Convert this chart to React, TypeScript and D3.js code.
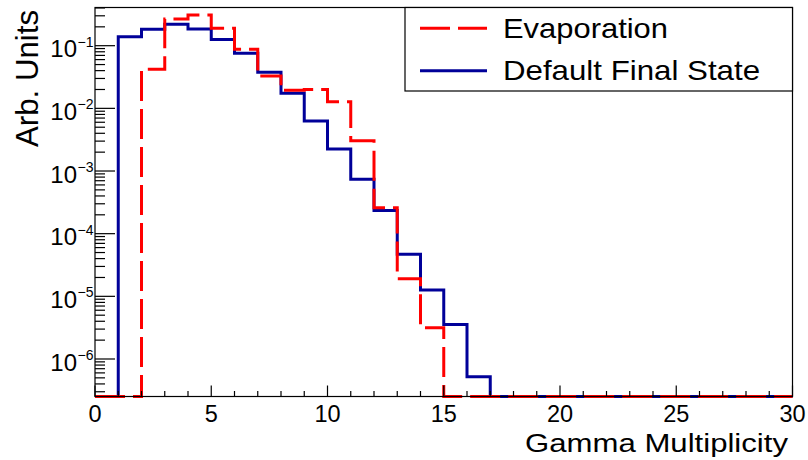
import React from "react";
import * as d3 from "d3";

// ---- data ----
const binLowEdges = d3.range(0, 30); // bins of width 1: [k, k+1)
const evaporation = [
  0, 0, 0.042, 0.267, 0.31, 0.19, 0.0877, 0.0328, 0.0194, 0.02,
  0.0128, 0.00305, 0.00026, 1.9e-5, 3.16e-6, 0, 0, 0, 0, 0,
  0, 0, 0, 0, 0, 0, 0, 0, 0, 0,
];
const defaultFinalState = [
  0, 0.139, 0.183, 0.22, 0.184, 0.126, 0.0757, 0.0376, 0.0174, 0.0063,
  0.00224, 0.00074, 0.000234, 4.7e-5, 1.26e-5, 3.55e-6, 5.2e-7, 0, 0, 0,
  0, 0, 0, 0, 0, 0, 0, 0, 0, 0,
];
const xTicksMajor = [0, 5, 10, 15, 20, 25, 30];
const yDecades = [-1, -2, -3, -4, -5, -6];
const seriesNames = ["Evaporation", "Default Final State"];
const xTitle = "Gamma Multiplicity";
const yTitle = "Arb. Units";

// ---- layout ----
const W = 808;
const H = 460;
const left = 95;
const right = 792.5;
const top = 7.5;
const bottom = 396.5;
const yMin = 2.52e-7;
const yMax = 0.407;

const RED = "#ff0000";
const BLUE = "#000099";
const FONT = "'Liberation Sans', Arial, Helvetica, sans-serif";

export default function App() {
  const x = d3.scaleLinear().domain([0, 30]).range([left, right]);
  const y = d3.scaleLog().domain([yMin, yMax]).range([bottom, top]);

  const yv = (v: number) => (v > 0 ? Math.max(y.range()[1], Math.min(bottom, y(v))) : bottom);

  const stepPath = (vals: number[]) => {
    let p = `M${x(binLowEdges[0])},${yv(vals[0])}`;
    vals.forEach((v, i) => {
      if (i > 0) p += `V${yv(v)}`;
      p += `H${x(binLowEdges[i] + 1)}`;
    });
    return p;
  };

  const xMinor = d3.range(0, 31);
  const yMinor: number[] = [];
  for (let e = -7; e <= 0; e++) {
    for (let m = 2; m <= 9; m++) {
      const v = m * Math.pow(10, e);
      if (v >= yMin && v <= yMax) yMinor.push(v);
    }
  }

  return (
    <svg width={W} height={H} style={{ position: "absolute", left: 0, top: 0, background: "#fff" }}>
      <rect x={0} y={0} width={W} height={H} fill="#fff" />
      {/* histograms */}
      <path d={stepPath(defaultFinalState)} fill="none" stroke={BLUE} strokeWidth={3} />
      <path d={stepPath(evaporation)} fill="none" stroke={RED} strokeWidth={3} strokeDasharray="30 8" />

      {/* frame */}
      <rect x={left} y={top} width={right - left} height={bottom - top} fill="none" stroke="#000" strokeWidth={1.2} />

      {/* x ticks */}
      {xMinor.map((t) => (
        <line key={"xm" + t} x1={x(t)} x2={x(t)} y1={bottom} y2={bottom - (t % 5 === 0 ? 11 : 5.5)} stroke="#000" strokeWidth={1.2} />
      ))}
      {xTicksMajor.map((t) => (
        <text key={"xl" + t} x={x(t)} y={421.7} fontSize={23.5} fontFamily={FONT} textAnchor="middle" fill="#000">
          {t}
        </text>
      ))}

      {/* y ticks */}
      {yMinor.map((v, i) => (
        <line key={"ym" + i} x1={left} x2={left + 10} y1={y(v)} y2={y(v)} stroke="#000" strokeWidth={1.2} />
      ))}
      {yDecades.map((e) => {
        const yy = y(Math.pow(10, e));
        return (
          <g key={"yd" + e}>
            <line x1={left} x2={left + 20} y1={yy} y2={yy} stroke="#000" strokeWidth={1.2} />
            <text x={77} y={yy + 11.6} fontSize={24} fontFamily={FONT} textAnchor="end" fill="#000">
              10
            </text>
            <text x={77.5} y={yy + 1} fontSize={14} fontFamily={FONT} textAnchor="start" fill="#000">
              {"\u2212" + Math.abs(e)}
            </text>
          </g>
        );
      })}

      {/* axis titles */}
      <text x={788} y={451.7} fontSize={26} fontFamily={FONT} textAnchor="end" textLength={263} lengthAdjust="spacingAndGlyphs" fill="#000">
        {xTitle}
      </text>
      <text
        transform={`translate(38,147) rotate(-90)`}
        x={0}
        y={0}
        fontSize={31}
        fontFamily={FONT}
        textAnchor="start"
        textLength={137}
        lengthAdjust="spacingAndGlyphs"
        fill="#000"
      >
        {yTitle}
      </text>

      {/* legend */}
      <rect x={405} y={7.5} width={right - 405} height={83.5} fill="#fff" stroke="#000" strokeWidth={1.2} />
      <line x1={420} x2={487} y1={28.3} y2={28.3} stroke={RED} strokeWidth={3} strokeDasharray="30 8" />
      <line x1={420} x2={487} y1={70.7} y2={70.7} stroke={BLUE} strokeWidth={3} />
      <text x={503} y={37.5} fontSize={28} fontFamily={FONT} textLength={165} lengthAdjust="spacingAndGlyphs" fill="#000">
        {seriesNames[0]}
      </text>
      <text x={503} y={80} fontSize={28} fontFamily={FONT} textLength={257} lengthAdjust="spacingAndGlyphs" fill="#000">
        {seriesNames[1]}
      </text>
    </svg>
  );
}
